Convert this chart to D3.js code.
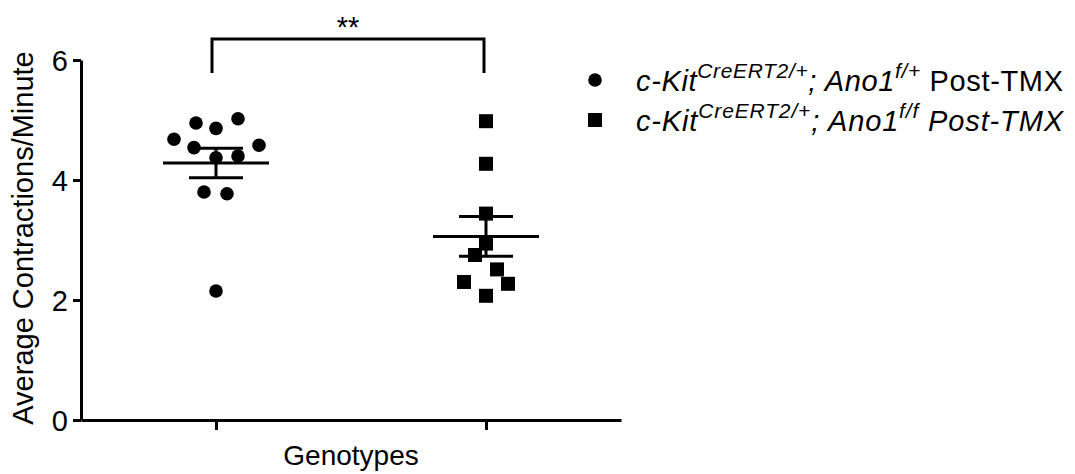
<!DOCTYPE html>
<html>
<head>
<meta charset="utf-8">
<script src="https://cdn.jsdelivr.net/npm/d3@7"></script>
<style>
  body { margin: 0; background: #fff; }
  text { font-family: "Liberation Sans", Arial, Helvetica, sans-serif; fill: #000; }
</style>
</head>
<body>
<div id="chart"></div>
<script>
const width = 1075, height = 474;

// Data
const groups = ["flox/+", "flox/flox"];
const hetValues = [4.95, 4.86, 5.02, 4.68, 4.54, 4.58, 4.37, 4.40, 3.80, 3.77, 2.15];
const koValues = [4.98, 4.27, 3.44, 2.94, 2.75, 2.51, 2.30, 2.27, 2.07];
const yTicks = [0, 2, 4, 6];
const significance = "**";

// horizontal scatter of points (px), as laid out in the original
const hetJitter = [-20, 0, 22, -42, -22, 43, 0, 22, -12, 11, 0];
const koJitter = [0, 0, 0, 0, -11, 11, -22, 22, 0];

const margin = {left: 81, right: 621, top: 60, bottom: 420};

const svg = d3.select("#chart").append("svg")
    .attr("width", width)
    .attr("height", height);

const x = d3.scalePoint().domain(groups).range([margin.left, margin.right]).padding(0.5);
const y = d3.scaleLinear().domain([0, 6]).range([margin.bottom, margin.top]);

// axes
const yAxis = svg.append("g")
    .attr("transform", `translate(${margin.left},0)`)
    .call(d3.axisLeft(y).tickValues(yTicks).tickFormat(d3.format("d"))
        .tickSize(8).tickPadding(5).tickSizeOuter(0));
yAxis.selectAll("path, line").attr("stroke", "#000").attr("stroke-width", 3);
yAxis.selectAll("text").style("font-size", "29px").attr("dy", "0.36em");

const xAxis = svg.append("g")
    .attr("transform", `translate(0,${margin.bottom})`)
    .call(d3.axisBottom(x).tickSize(10).tickFormat("").tickSizeOuter(0));
xAxis.selectAll("path, line").attr("stroke", "#000").attr("stroke-width", 3);

svg.append("text")
    .attr("transform", `translate(33,238) rotate(-90)`)
    .attr("text-anchor", "middle")
    .style("font-size", "29px")
    .text("Average Contractions/Minute");

svg.append("text")
    .attr("x", (margin.left + margin.right) / 2)
    .attr("y", 465)
    .attr("text-anchor", "middle")
    .style("font-size", "28px")
    .text("Genotypes");

// points
svg.append("g").selectAll("circle")
    .data(hetValues)
    .join("circle")
    .attr("cx", (d, i) => x(groups[0]) + hetJitter[i])
    .attr("cy", d => y(d))
    .attr("r", 6.8)
    .attr("fill", "#000");

const sq = 14;
svg.append("g").selectAll("rect")
    .data(koValues)
    .join("rect")
    .attr("x", (d, i) => x(groups[1]) + koJitter[i] - sq / 2)
    .attr("y", d => y(d) - sq / 2)
    .attr("width", sq)
    .attr("height", sq)
    .attr("fill", "#000");

// mean +/- SEM
function drawMeanSem(vals, cx) {
    const m = d3.mean(vals);
    const sem = d3.deviation(vals) / Math.sqrt(vals.length);
    const g = svg.append("g").attr("stroke", "#000").attr("stroke-width", 3);
    g.append("line").attr("x1", cx - 53).attr("x2", cx + 53).attr("y1", y(m)).attr("y2", y(m));
    g.append("line").attr("x1", cx).attr("x2", cx).attr("y1", y(m + sem)).attr("y2", y(m - sem));
    g.append("line").attr("x1", cx - 27).attr("x2", cx + 27).attr("y1", y(m + sem)).attr("y2", y(m + sem));
    g.append("line").attr("x1", cx - 27).attr("x2", cx + 27).attr("y1", y(m - sem)).attr("y2", y(m - sem));
}
drawMeanSem(hetValues, x(groups[0]));
drawMeanSem(koValues, x(groups[1]));

// significance bracket
const bx1 = x(groups[0]) - 4, bx2 = x(groups[1]) - 2;
svg.append("path")
    .attr("d", `M${bx1},73V39H${bx2}V73`)
    .attr("fill", "none")
    .attr("stroke", "#000")
    .attr("stroke-width", 3);
svg.append("text")
    .attr("x", (bx1 + bx2) / 2)
    .attr("y", 37)
    .attr("text-anchor", "middle")
    .style("font-size", "29px")
    .text(significance);

// legend
const legend = svg.append("g");
const legendRows = [
    {sym: "circle", parts: [["c-Kit", 0, 1], ["CreERT2/+", 1, 1], ["; Ano1", 0, 1], ["f/+", 1, 1], [" Post-TMX", 0, 0]]},
    {sym: "square", parts: [["c-Kit", 0, 1], ["CreERT2/+", 1, 1], ["; Ano1", 0, 1], ["f/f", 1, 1], [" Post-TMX", 0, 1]]}
];
legendRows.forEach((row, i) => {
    const cy = 80 + i * 40;
    if (row.sym === "circle") {
        legend.append("circle").attr("cx", 595).attr("cy", cy).attr("r", 6.8).attr("fill", "#000");
    } else {
        legend.append("rect").attr("x", 595 - 7).attr("y", cy - 7).attr("width", 14).attr("height", 14).attr("fill", "#000");
    }
    const t = legend.append("text")
        .attr("x", 636)
        .attr("y", cy + 11)
        .attr("textLength", 427)
        .attr("lengthAdjust", "spacing")
        .style("font-size", "29px");
    let raised = false;
    row.parts.forEach(([s, sup, ital]) => {
        const ts = t.append("tspan").text(s).style("font-style", ital ? "italic" : "normal");
        if (sup) {
            ts.attr("dy", -13).style("font-size", "21px");
            raised = true;
        } else if (raised) {
            ts.attr("dy", 13);
            raised = false;
        }
    });
});
</script>
</body>
</html>
